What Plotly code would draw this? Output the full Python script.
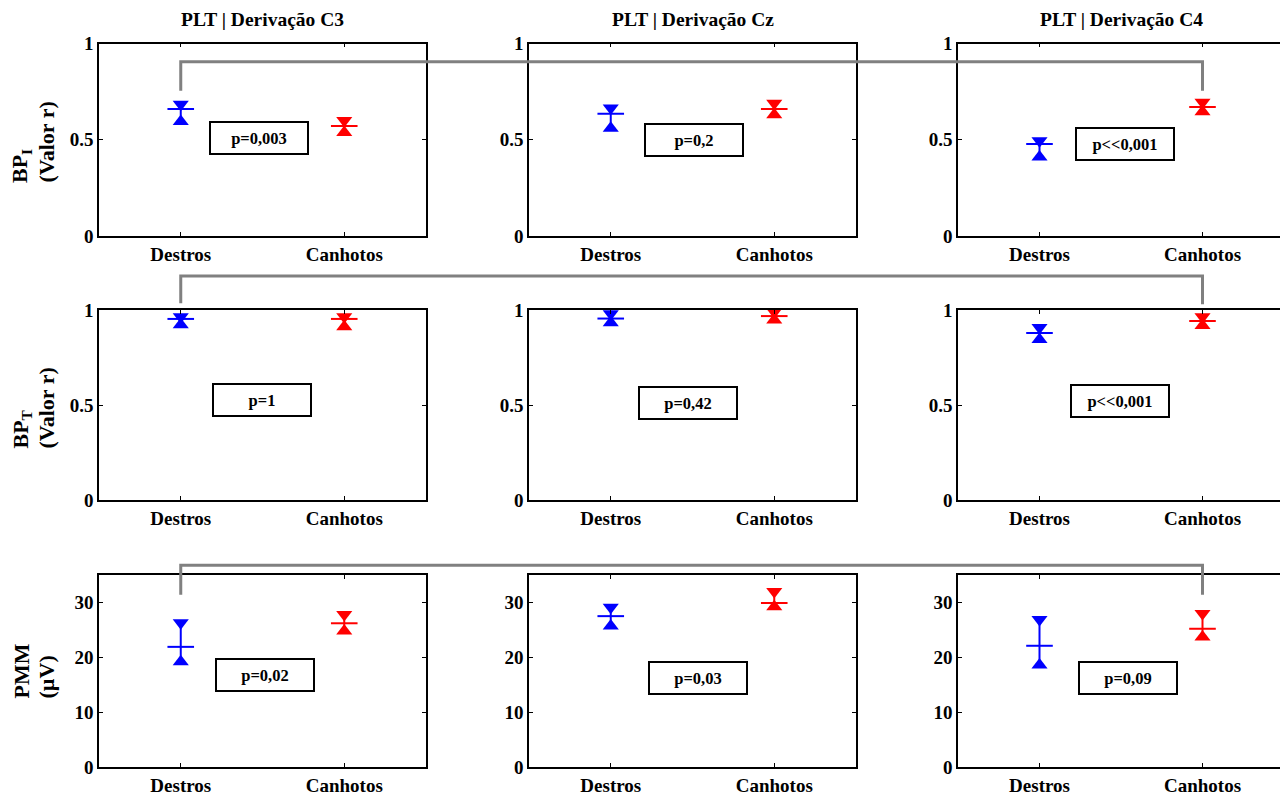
import plotly.graph_objects as go

# ---------------- data ----------------
categories = ["Destros", "Canhotos"]
derivations = ["C3", "Cz", "C4"]
row_title_line1 = ["BP<sub>I</sub>", "BP<sub>T</sub>", "PMM"]
row_title_line2 = ["(Valor r)", "(Valor r)", "(µV)"]

# Row 1: BP_I (valor r)   -> per derivation C3, Cz, C4
bpi_destros_upper = [0.685, 0.665, 0.495]
bpi_destros_mean = [0.660, 0.635, 0.478]
bpi_destros_lower = [0.595, 0.560, 0.410]
bpi_canhotos_upper = [0.600, 0.690, 0.695]
bpi_canhotos_mean = [0.571, 0.660, 0.670]
bpi_canhotos_lower = [0.538, 0.630, 0.645]

# Row 2: BP_T (valor r)
bpt_destros_upper = [0.965, 0.980, 0.908]
bpt_destros_mean = [0.953, 0.955, 0.879]
bpt_destros_lower = [0.922, 0.933, 0.845]
bpt_canhotos_upper = [0.965, 0.990, 0.965]
bpt_canhotos_mean = [0.953, 0.968, 0.942]
bpt_canhotos_lower = [0.912, 0.948, 0.918]

# Row 3: PMM (uV)
pmm_destros_upper = [26.3, 29.1, 26.9]
pmm_destros_mean = [21.9, 27.5, 22.1]
pmm_destros_lower = [19.2, 25.7, 18.6]
pmm_canhotos_upper = [27.8, 32.0, 28.0]
pmm_canhotos_mean = [26.2, 29.9, 25.2]
pmm_canhotos_lower = [24.8, 29.2, 23.7]

p_values = [
    ["p=0,003", "p=0,2", "p&lt;&lt;0,001"],
    ["p=1", "p=0,42", "p&lt;&lt;0,001"],
    ["p=0,02", "p=0,03", "p=0,09"],
]

y_ranges = [[0, 1], [0, 1], [0, 35]]
y_ticks = [[0, 0.5, 1], [0, 0.5, 1], [0, 10, 20, 30]]
y_ticktext = [["0", "0.5", "1"], ["0", "0.5", "1"], ["0", "10", "20", "30"]]

rows_data = [
    {"Destros": (bpi_destros_upper, bpi_destros_mean, bpi_destros_lower),
     "Canhotos": (bpi_canhotos_upper, bpi_canhotos_mean, bpi_canhotos_lower)},
    {"Destros": (bpt_destros_upper, bpt_destros_mean, bpt_destros_lower),
     "Canhotos": (bpt_canhotos_upper, bpt_canhotos_mean, bpt_canhotos_lower)},
    {"Destros": (pmm_destros_upper, pmm_destros_mean, pmm_destros_lower),
     "Canhotos": (pmm_canhotos_upper, pmm_canhotos_mean, pmm_canhotos_lower)},
]

# ---------------- layout / style ----------------
OFF = 8                      # page body margin
W, H = 1280, 788             # figure size (fits the 1288x796 window)
col_px = [(99, 426), (529, 856), (958, 1284)]     # window pixel positions
row_px = [(43.5, 236), (310, 500), (575, 767)]
colors = {"Destros": "#0000FF", "Canhotos": "#FF0000"}
FONT = "Liberation Serif"
x_range = [-0.5, 1.5]

# p-box positions (data coords, category-index x) and bracket levels (data coords)
pbox_pos = [
    [(0.479, 0.51), (0.512, 0.50), (0.525, 0.478)],
    [(0.497, 0.526), (0.472, 0.511), (0.494, 0.521)],
    [(0.515, 16.7), (0.534, 16.3), (0.543, 16.2)],
]
bracket_levels = [(0.905, 0.755, 0.755), (1.179, 1.035, 1.03), (36.8, 31.4, 31.4)]
title_y_px = 19
row_title_x_px = (21, 46)
row_title_bottom_px = [185, 451, 701]


def px_x(p):
    return (p - OFF) / W


def px_y(p):
    return 1 - (p - OFF) / H


xdom = [(px_x(a), px_x(b)) for a, b in col_px]
ydom = [(px_y(b), px_y(a)) for a, b in row_px]

fig = go.Figure()
layout_axes = {}
annotations = []

for r in range(3):
    for c in range(3):
        k = r * 3 + c + 1
        xa = "x" if k == 1 else f"x{k}"
        ya = "y" if k == 1 else f"y{k}"
        xkey = "xaxis" if k == 1 else f"xaxis{k}"
        ykey = "yaxis" if k == 1 else f"yaxis{k}"
        for cat in categories:
            up, mn, lo = rows_data[r][cat]
            col = colors[cat]
            fig.add_trace(go.Scatter(
                x=[cat], y=[mn[c]], xaxis=xa, yaxis=ya, mode="markers",
                marker=dict(symbol="line-ew", size=19, color=col,
                            line=dict(width=2, color=col)),
                error_y=dict(type="data", symmetric=False, array=[up[c] - mn[c]],
                             arrayminus=[mn[c] - lo[c]], width=0, thickness=2, color=col),
                showlegend=False, hoverinfo="skip"))
            fig.add_trace(go.Scatter(
                x=[cat], y=[up[c]], xaxis=xa, yaxis=ya, mode="markers",
                marker=dict(symbol="triangle-down", size=14, color=col),
                showlegend=False, hoverinfo="skip"))
            fig.add_trace(go.Scatter(
                x=[cat], y=[lo[c]], xaxis=xa, yaxis=ya, mode="markers",
                marker=dict(symbol="triangle-up", size=14, color=col),
                showlegend=False, hoverinfo="skip"))
        layout_axes[xkey] = dict(
            domain=list(xdom[c]), anchor=ya, type="category", automargin=False,
            categoryorder="array", categoryarray=categories, range=x_range,
            showline=True, linecolor="black", linewidth=1.5, mirror="ticks",
            ticks="inside", ticklen=4, tickcolor="black", showgrid=False, zeroline=False,
            tickfont=dict(family=FONT, size=19, color="black", weight="bold"))
        layout_axes[ykey] = dict(
            domain=list(ydom[r]), anchor=xa, range=y_ranges[r], automargin=False,
            tickvals=y_ticks[r], ticktext=y_ticktext[r],
            showline=True, linecolor="black", linewidth=1.5, mirror="ticks",
            ticks="inside", ticklen=4, tickcolor="black", showgrid=False, zeroline=False,
            tickfont=dict(family=FONT, size=19, color="black", weight="bold"))
        px_, py_ = pbox_pos[r][c]
        annotations.append(dict(
            x=px_, y=py_, xref=xa, yref=ya, text=p_values[r][c], showarrow=False,
            font=dict(family=FONT, size=16.5, color="black", weight="bold"),
            bordercolor="black", borderwidth=2, borderpad=2, bgcolor="white",
            width=92, height=26, xanchor="center", yanchor="middle"))

# column titles
for c in range(3):
    annotations.append(dict(
        x=(xdom[c][0] + xdom[c][1]) / 2, y=px_y(title_y_px), xref="paper", yref="paper",
        text=f"PLT | Derivação {derivations[c]}", showarrow=False,
        font=dict(family=FONT, size=19.5, color="black", weight="bold"),
        xanchor="center", yanchor="middle"))

# row titles (two rotated lines, bottom-aligned)
for r in range(3):
    for j, txt in enumerate((row_title_line1[r], row_title_line2[r])):
        annotations.append(dict(
            x=px_x(row_title_x_px[j]), y=px_y(row_title_bottom_px[r]),
            xref="paper", yref="paper", text=txt, showarrow=False, textangle=-90,
            font=dict(family=FONT, size=22, color="black", weight="bold"),
            xanchor="center", yanchor="bottom"))

# brackets linking Destros (C3) to Canhotos (C4) on each row
def to_paper_x(c, idx):
    d0, d1 = xdom[c]
    return d0 + (idx - x_range[0]) / (x_range[1] - x_range[0]) * (d1 - d0)


def to_paper_y(r, v):
    d0, d1 = ydom[r]
    lo, hi = y_ranges[r]
    return d0 + (v - lo) / (hi - lo) * (d1 - d0)


shapes = []
for r in range(3):
    top, dl, dr = bracket_levels[r]
    xl = to_paper_x(0, categories.index("Destros"))
    xr = to_paper_x(2, categories.index("Canhotos"))
    yt = to_paper_y(r, top)
    yl = to_paper_y(r, dl)
    yr = to_paper_y(r, dr)
    shapes.append(dict(
        type="path", xref="paper", yref="paper",
        path=f"M {xl},{yl} L {xl},{yt} L {xr},{yt} L {xr},{yr}",
        line=dict(color="#808080", width=3)))

fig.update_layout(
    width=W, height=H, margin=dict(l=0, r=0, t=0, b=0, autoexpand=False),
    paper_bgcolor="white", plot_bgcolor="white",
    font=dict(family=FONT, color="black"),
    annotations=annotations, shapes=shapes, showlegend=False,
    **layout_axes)

fig.write_html("out.html")
